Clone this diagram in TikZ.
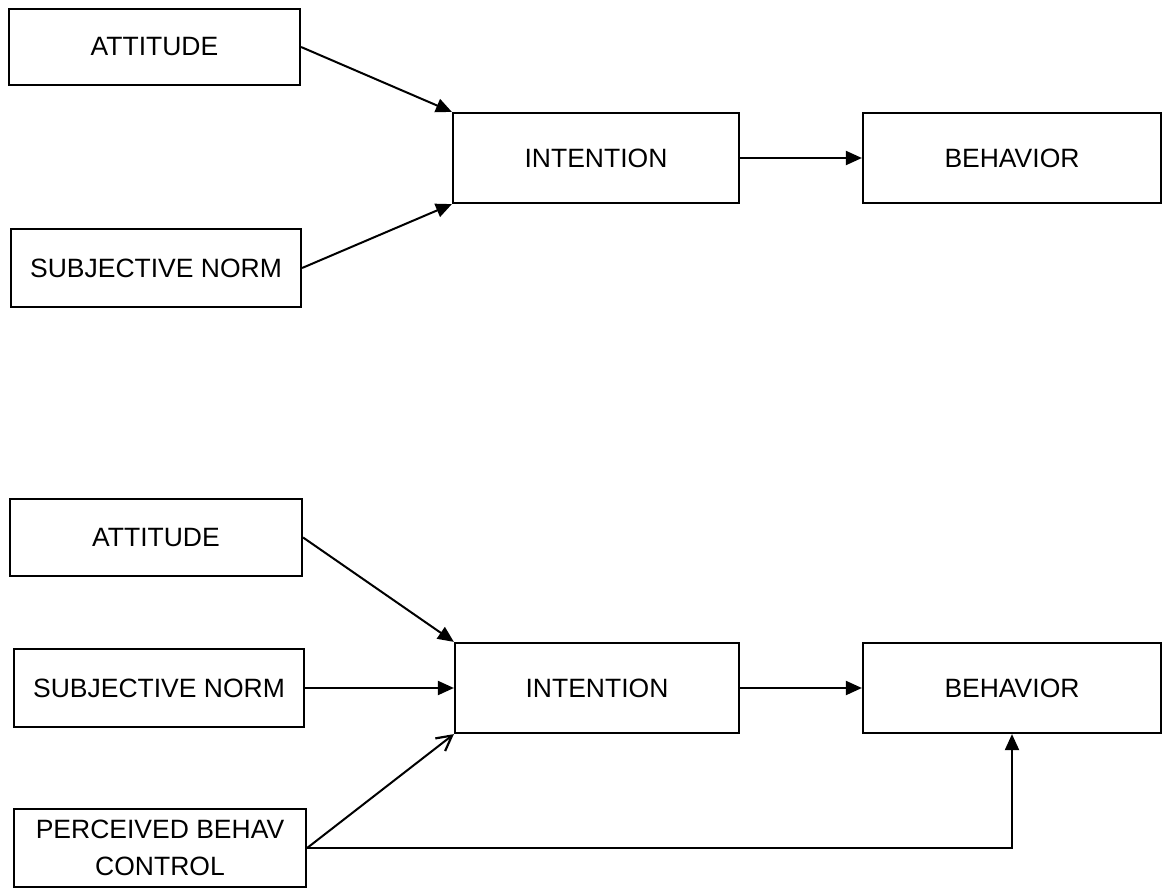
\documentclass[tikz,border=0pt]{standalone}
\usepackage{fontspec}
\setmainfont{Liberation Sans}
\usetikzlibrary{arrows.meta}
\begin{document}
\begin{tikzpicture}[x=1pt,y=-1pt,
  box/.style={draw,line width=2.2pt,rectangle,inner sep=0pt,align=center,
    font=\fontsize{26.5}{37}\selectfont},
  link/.style={line width=2pt,-{Triangle[length=16pt,width=14pt]}},
  openlink/.style={line width=2pt,-{Straight Barb[length=15pt,width=16pt,line width=2.2pt]}}]
\useasboundingbox (0,0) rectangle (1163,888);

% Model without perceived behavioural control
\node[box,minimum width=291pt,minimum height=76pt] (att1) at (154.5,47) {ATTITUDE};
\node[box,minimum width=290pt,minimum height=78pt] (sn1) at (156,268) {SUBJECTIVE NORM};
\node[box,minimum width=286pt,minimum height=90pt] (int1) at (596,158) {INTENTION};
\node[box,minimum width=298pt,minimum height=90pt] (beh1) at (1012,158) {BEHAVIOR};

\draw[link] (att1.east) -- (int1.north west);
\draw[link] (sn1.east) -- (int1.south west);
\draw[link] (int1.east) -- (beh1.west);

% Model with perceived behavioural control
\node[box,minimum width=292pt,minimum height=77pt] (att2) at (156,537.5) {ATTITUDE};
\node[box,minimum width=290pt,minimum height=78pt] (sn2) at (159,688) {SUBJECTIVE NORM};
\node[box,minimum width=284pt,minimum height=90pt] (int2) at (597,688) {INTENTION};
\node[box,minimum width=298pt,minimum height=90pt] (beh2) at (1012,688) {BEHAVIOR};
\node[box,minimum width=292pt,minimum height=78pt] (pbc) at (160,848) {PERCEIVED BEHAV\\CONTROL};

\draw[link] (att2.east) -- (int2.north west);
\draw[link] (sn2.east) -- (int2.west);
\draw[link] (int2.east) -- (beh2.west);
\draw[openlink] (pbc.east) -- (int2.south west);
\draw[link] (pbc.east) -| (beh2.south);
\end{tikzpicture}
\end{document}
